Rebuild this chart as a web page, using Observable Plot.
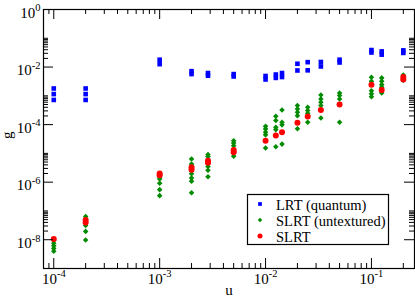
<!DOCTYPE html>
<html><head><meta charset="utf-8">
<script src="https://cdn.jsdelivr.net/npm/d3@7"></script>
<script src="https://cdn.jsdelivr.net/npm/@observablehq/plot@0.6"></script>
<style>html,body{margin:0;padding:0;background:#fff;}</style>
</head><body><div id="chart"></div>
<script>
// ---- data ----
const uValues = [1e-4, 2e-4, 1e-3, 2e-3, 2.86e-3, 5e-3, 1e-2, 1.25e-2, 1.43e-2, 2e-2, 2.5e-2, 3.33e-2, 5e-2, 0.1, 0.125, 0.2];

const lrtQuantum = [
  [1.8e-3, 1.15e-3, 7.2e-4],
  [1.8e-3, 1.15e-3, 7.2e-4],
  [1.8e-2, 1.26e-2],
  [7.2e-3, 5.7e-3],
  [6.2e-3, 5.0e-3],
  [5.7e-3, 4.7e-3],
  [4.9e-3, 3.7e-3],
  [5.5e-3, 4.2e-3],
  [6.2e-3, 4.5e-3],
  [1.3e-2, 7.6e-3],
  [1.48e-2, 7.7e-3],
  [1.5e-2, 1.05e-2],
  [1.8e-2, 1.44e-2],
  [3.9e-2, 3.2e-2],
  [3.5e-2, 2.7e-2],
  [3.8e-2, 3.1e-2]
];

const slrtUntextured = [
  [9.5e-9, 7.6e-9, 6.2e-9, 5.0e-9, 4.0e-9],
  [6.4e-8, 5.4e-8, 4.6e-8, 3.9e-8, 3.1e-8, 1.95e-8, 9.8e-9],
  [1.5e-6, 1.3e-6, 9.1e-7, 5.5e-7, 3.4e-7],
  [6.4e-6, 4.3e-6, 1.95e-6, 1.4e-6, 1.07e-6, 4.3e-7],
  [9.1e-6, 7.8e-6, 3.5e-6, 2.6e-6, 1.55e-6],
  [2.75e-5, 2.3e-5, 1.86e-5, 7.9e-6],
  [8.7e-5, 7.1e-5, 5.4e-5, 4.4e-5, 1.55e-5],
  [1.95e-4, 1.38e-4, 8.1e-5, 6.7e-5, 1.7e-5],
  [3.2e-4, 1.2e-4, 9.8e-5, 2.1e-5],
  [4.6e-4, 3.5e-4, 2.7e-4, 2.05e-4, 7.2e-5],
  [4.0e-4, 3.1e-4, 2.5e-4, 1.2e-4],
  [1.07e-3, 7.8e-4, 6.0e-4, 4.6e-4, 1.7e-4],
  [1.26e-3, 1.02e-3, 7.8e-4, 1.2e-4],
  [4.4e-3, 3.2e-3, 1.5e-3, 1.17e-3, 9.3e-4],
  [4.2e-3, 3.2e-3, 2.45e-3, 2.0e-3, 1.26e-3],
  [5.3e-3, 3.5e-3]
];

const slrt = [
  [1.05e-8],
  [4.8e-8, 4.0e-8],
  [2.0e-6, 1.75e-6],
  [3.3e-6, 2.7e-6],
  [5.6e-6, 4.7e-6],
  [1.3e-5, 1.1e-5],
  [2.75e-5],
  [4.2e-5],
  [5.4e-5],
  [1.15e-4],
  [1.9e-4],
  [3.2e-4],
  [5.0e-4],
  [2.45e-3],
  [1.58e-3],
  [4.5e-3, 3.7e-3]
];

const xMajorTicks = [1e-4, 1e-3, 1e-2, 1e-1];
const yMajorTicks = [1, 1e-2, 1e-4, 1e-6, 1e-8];
const seriesLabels = ["LRT (quantum)", "SLRT (untextured)", "SLRT"];
const seriesColors = ["#0000ff", "#008b00", "#ff0000"];

// ---- layout ----
const W = 415, H = 301;
const mL = 43, mR = 1, mT = 9, mB = 33;
const innerW = W - mL - mR, innerH = H - mT - mB;
const xDomain = [8e-5, 0.255], yDomain = [1e-9, 1];
const majorLen = 10, minorLen = 5;

const xMinorTicks = [];
for (let e = -5; e <= -1; e++) for (let k = 2; k <= 9; k++) {
  const v = k * Math.pow(10, e);
  if (v > xDomain[0] * 1.02 && v < xDomain[1]) xMinorTicks.push(v);
}
const yMinorTicks = [];
for (const e of [-2, -4, -6, -8]) for (let k = 2; k <= 10; k++) yMinorTicks.push(k * Math.pow(10, e));

const toRows = cols => cols.flatMap((col, i) => col.map(g => ({u: uValues[i], g})));
const supLabel = d => "10^" + Math.round(Math.log10(d));

const svg = Plot.plot({
  width: W, height: H,
  marginLeft: mL, marginRight: mR, marginTop: mT, marginBottom: mB,
  style: {fontFamily: "'Liberation Serif', 'Times New Roman', serif", fontSize: "15px", background: "white", color: "black"},
  x: {type: "log", domain: xDomain, axis: null},
  y: {type: "log", domain: yDomain, axis: null},
  marks: [
    Plot.dot(toRows(lrtQuantum), {x: "u", y: "g", symbol: "square", fill: seriesColors[0], r: 2.6}),
    Plot.dot(toRows(slrtUntextured), {x: "u", y: "g", symbol: "diamond2", fill: seriesColors[1], r: 2.5}),
    Plot.dot(toRows(slrt), {x: "u", y: "g", symbol: "circle", fill: seriesColors[2], r: 3}),
    // bottom / top ticks
    Plot.tickX(xMajorTicks, {x: d => d, insetTop: innerH - majorLen}),
    Plot.tickX(xMinorTicks, {x: d => d, insetTop: innerH - minorLen}),
    Plot.tickX(xMajorTicks, {x: d => d, insetBottom: innerH - majorLen}),
    Plot.tickX(xMinorTicks, {x: d => d, insetBottom: innerH - minorLen}),
    // left / right ticks
    Plot.tickY(yMajorTicks, {y: d => d, insetRight: innerW - majorLen}),
    Plot.tickY(yMinorTicks, {y: d => d, insetRight: innerW - minorLen}),
    Plot.tickY(yMajorTicks, {y: d => d, insetLeft: innerW - majorLen}),
    Plot.tickY(yMinorTicks, {y: d => d, insetLeft: innerW - minorLen}),
    Plot.frame({stroke: "black", strokeWidth: 1.2}),
    Plot.text(xMajorTicks, {x: d => d, frameAnchor: "bottom", dy: 15, text: supLabel, fontSize: 15}),
    Plot.text(yMajorTicks, {y: d => d, frameAnchor: "left", dx: -3, dy: 3.5, textAnchor: "end", text: supLabel, fontSize: 15}),
    Plot.text(["u"], {frameAnchor: "bottom", dy: 26, text: d => d, fontSize: 15}),
    Plot.text(["g"], {frameAnchor: "left", dx: -36, rotate: -90, text: d => d, fontSize: 15})
  ]
});

// superscript exponents
const NS = "http://www.w3.org/2000/svg";
svg.querySelectorAll("text").forEach(t => {
  const m = /^10\^(-?\d+)$/.exec(t.textContent);
  if (!m) return;
  t.textContent = "";
  const a = document.createElementNS(NS, "tspan");
  a.textContent = "10";
  const b = document.createElementNS(NS, "tspan");
  b.setAttribute("dy", "-6.5");
  b.setAttribute("font-size", "10.5");
  b.textContent = m[1];
  t.append(a, b);
});

// legend
const legendSymbols = [
  d3.symbol(d3.symbolSquare, 14)(),
  d3.symbol(d3.symbolDiamond2 || d3.symbolDiamond, 12.5)(),
  d3.symbol(d3.symbolCircle, 20)()
];
const lg = d3.select(svg).append("g").attr("font-family", "'Liberation Serif', 'Times New Roman', serif");
lg.append("rect").attr("x", 247.5).attr("y", 194.5).attr("width", 141).attr("height", 50)
  .attr("fill", "white").attr("stroke", "black").attr("stroke-width", 1.2);
seriesLabels.forEach((label, i) => {
  const cy = 204 + i * 16;
  lg.append("path").attr("transform", `translate(260,${cy})`).attr("d", legendSymbols[i]).attr("fill", seriesColors[i]);
  lg.append("text").attr("x", 276).attr("y", cy + 5.5).attr("font-size", 14.5)
    .attr("text-anchor", "start").attr("fill", "black").text(label);
});

document.getElementById("chart").append(svg);
</script>
</body></html>
